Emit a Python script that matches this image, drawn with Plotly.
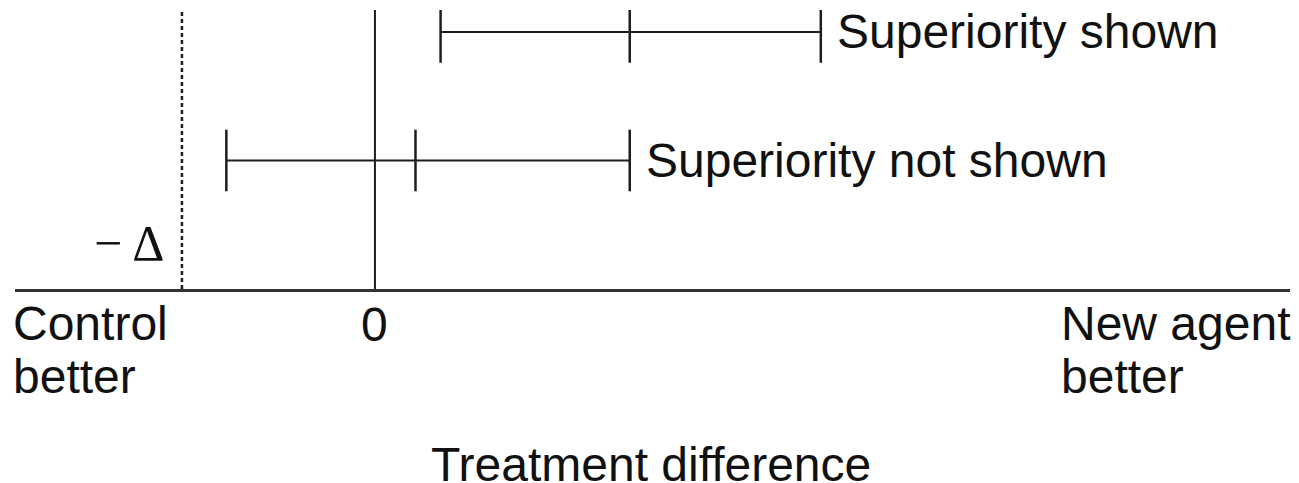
import plotly.graph_objects as go

# Data (treatment difference units; 0 = no difference, -1 = -Delta margin)
delta_margin = -1.0
rows = ["Superiority shown", "Superiority not shown"]
row_y = [2.0, 1.0]
ci_lower = [0.34, -0.77]
ci_point = [1.32, 0.21]
ci_upper = [2.31, 1.32]
y_top = 2.171

FONT = "Liberation Sans, Arial, Helvetica, sans-serif"
LINE = "#1e1e1e"
TXT = "#111"

fig = go.Figure()

# vertical reference lines
fig.add_trace(go.Scatter(x=[delta_margin, delta_margin], y=[0, y_top], mode="lines",
                         line=dict(color=LINE, width=2.5, dash="4px,3px"),
                         showlegend=False, hoverinfo="skip"))
fig.add_trace(go.Scatter(x=[0, 0], y=[0, y_top], mode="lines",
                         line=dict(color=LINE, width=2),
                         showlegend=False, hoverinfo="skip"))

# confidence intervals
for name, y, lo, pt, hi in zip(rows, row_y, ci_lower, ci_point, ci_upper):
    fig.add_trace(go.Scatter(
        x=[lo, pt, hi], y=[y, y, y], mode="lines+markers",
        line=dict(color=LINE, width=2),
        marker=dict(symbol="line-ns-open", size=44, line=dict(color=LINE, width=2.5)),
        showlegend=False, hoverinfo="skip"))
    fig.add_annotation(x=hi, y=y, text=name, showarrow=False, xanchor="left",
                       yanchor="middle", xshift=14,
                       font=dict(family=FONT, size=48, color=TXT))

# -Delta label
fig.add_annotation(x=delta_margin, y=0.358, text="\u2212\u2009\u0394", showarrow=False,
                   xanchor="right", yanchor="middle", xshift=-16,
                   font=dict(family="Liberation Serif, DejaVu Serif, serif", size=50, color=TXT))

# below-axis labels
fig.add_annotation(x=0, y=0, xref="x", yref="paper", text="0", showarrow=False,
                   xanchor="center", yanchor="middle", yshift=-35,
                   font=dict(family=FONT, size=48, color=TXT))
fig.add_annotation(x=0, y=0, xref="paper", yref="paper", text="Control", showarrow=False,
                   xanchor="left", yanchor="middle", yshift=-34, xshift=-4,
                   font=dict(family=FONT, size=48, color=TXT))
fig.add_annotation(x=0, y=0, xref="paper", yref="paper", text="better", showarrow=False,
                   xanchor="left", yanchor="middle", yshift=-87, xshift=-4,
                   font=dict(family=FONT, size=48, color=TXT))
fig.add_annotation(x=1, y=0, xref="paper", yref="paper", text="New agent", showarrow=False,
                   xanchor="left", yanchor="middle", yshift=-34, xshift=-231,
                   font=dict(family=FONT, size=48, color=TXT))
fig.add_annotation(x=1, y=0, xref="paper", yref="paper", text="better", showarrow=False,
                   xanchor="left", yanchor="middle", yshift=-87, xshift=-231,
                   font=dict(family=FONT, size=48, color=TXT))
fig.add_annotation(x=0.499, y=0, xref="paper", yref="paper", text="Treatment difference",
                   showarrow=False, xanchor="center", yanchor="middle", yshift=-175,
                   font=dict(family=FONT, size=48, color=TXT))

fig.update_xaxes(range=[-1.865, 4.741], showgrid=False, zeroline=False,
                 showline=True, linecolor="#333", linewidth=3,
                 showticklabels=False, ticks="", fixedrange=True)
fig.update_yaxes(range=[0, y_top], showgrid=False, zeroline=False, showline=False,
                 showticklabels=False, ticks="", fixedrange=True)

# page has an 8px body margin, so the figure is sized/offset to compensate
fig.update_layout(width=1291, height=475, margin=dict(l=7, r=9, t=2, b=194),
                  plot_bgcolor="white", paper_bgcolor="white", showlegend=False)

fig.write_html("out.html")
